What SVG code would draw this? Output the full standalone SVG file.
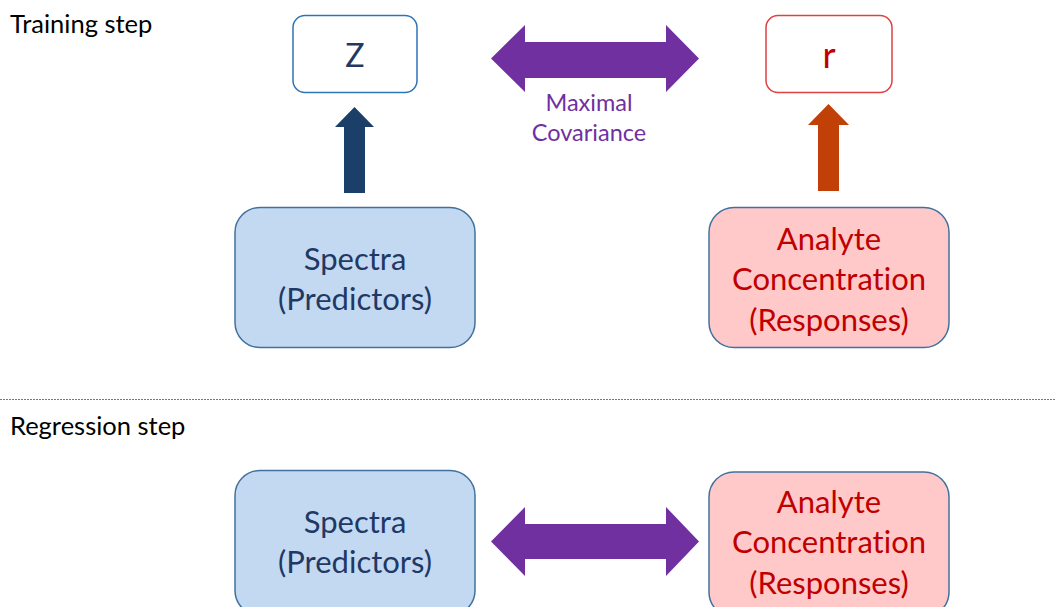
<svg xmlns="http://www.w3.org/2000/svg" width="1055" height="607" viewBox="0 0 1055 607">
<style>
text{font-family:Lato,"Open Sans","Liberation Sans",sans-serif;font-variant-ligatures:none;}
.lbl{font-size:25.5px;fill:#000;}
.blue{fill:#c3d9f1;stroke:#41719c;stroke-width:1.5;}
.pink{fill:#ffc9c9;stroke:#41719c;stroke-width:1.5;}
.bt{font-size:31px;fill:#1f3864;text-anchor:middle;}
.rt{font-size:31px;fill:#c00000;text-anchor:middle;}
.purple{fill:#7030a0;}
.pt{font-size:23.5px;fill:#7030a0;text-anchor:middle;}
</style>
<rect width="1055" height="607" fill="#fff"/>
<text class="lbl" x="10" y="33">Training step</text>
<text class="lbl" x="10" y="435">Regression step</text>
<line x1="0" y1="399.5" x2="1055" y2="399.5" stroke="#777" stroke-width="1" stroke-dasharray="2,1"/>
<g id="z">
<rect x="293" y="15.5" width="124" height="77" rx="12" fill="#fff" stroke="#2e75b6" stroke-width="1.5"/>
<text x="355" y="67" font-size="32" fill="#1f3864" text-anchor="middle">Z</text>
</g>
<g id="r">
<rect x="766" y="15.5" width="126" height="77" rx="12" fill="#fff" stroke="#e04040" stroke-width="1.5"/>
<text x="829" y="68" font-size="36" fill="#c00000" text-anchor="middle">r</text>
</g>
<g id="spectra-train">
<rect class="blue" x="235" y="207.5" width="240" height="140" rx="25"/>
<text class="bt" x="355" y="270">Spectra</text>
<text class="bt" x="355" y="310">(Predictors)</text>
</g>
<g id="analyte-train">
<rect class="pink" x="709" y="207.5" width="240" height="140" rx="25"/>
<text class="rt" x="829" y="250">Analyte</text>
<text class="rt" x="829" y="290">Concentration</text>
<text class="rt" x="829" y="331">(Responses)</text>
</g>
<g id="spectra-reg">
<rect class="blue" x="235" y="470.5" width="240" height="145" rx="25"/>
<text class="bt" x="355" y="533">Spectra</text>
<text class="bt" x="355" y="573">(Predictors)</text>
</g>
<g id="analyte-reg">
<rect class="pink" x="709" y="472" width="240" height="145" rx="25"/>
<text class="rt" x="829" y="513">Analyte</text>
<text class="rt" x="829" y="553">Concentration</text>
<text class="rt" x="829" y="594">(Responses)</text>
</g>
<g id="connectors">
<polygon class="purple" points="491,58.5 525,25 525,42 666,42 666,25 699,58.5 666,92 666,78 525,78 525,92"/>
<text class="pt" x="589" y="111">Maximal</text>
<text class="pt" x="589" y="141">Covariance</text>
<polygon fill="#1b3f69" points="354.5,107 374,127 365,127 365,193 344,193 344,127 335,127"/>
<polygon fill="#c04008" points="828.5,104 849,125 839,125 839,191 818,191 818,125 808,125"/>
<polygon class="purple" points="491,541.5 525,507 525,524 666,524 666,507 699,541.5 666,576 666,559 525,559 525,576"/>
</g>
</svg>
